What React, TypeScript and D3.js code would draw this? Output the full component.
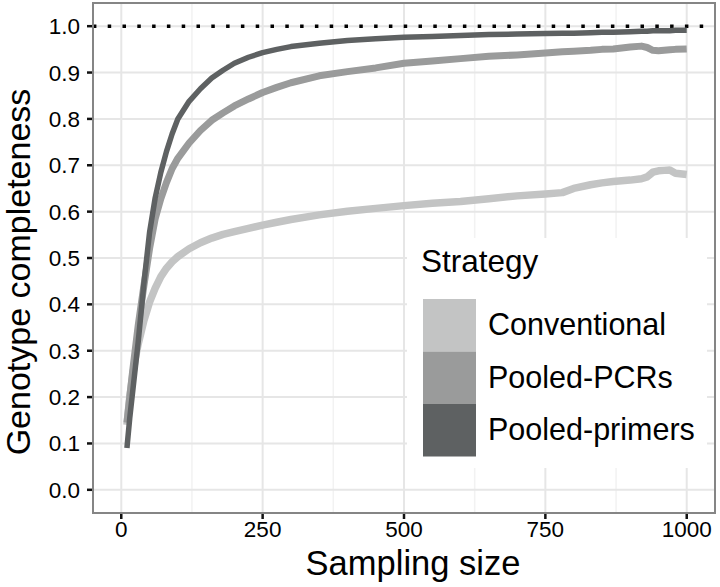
import React from "react";
import * as d3 from "d3";

const sizes = [10, 15, 20, 25, 30, 40, 50, 60, 70, 80, 90, 100, 120, 140, 160, 180, 200, 225, 250, 275, 300, 350, 400, 450, 500, 550, 600, 650, 700, 750, 780, 800, 830, 850, 870, 900, 920, 930, 940, 950, 960, 970, 980, 1000];

const conventional = [0.14, 0.2, 0.245, 0.285, 0.315, 0.365, 0.405, 0.435, 0.46, 0.478, 0.492, 0.503, 0.52, 0.533, 0.543, 0.551, 0.557, 0.564, 0.571, 0.577, 0.583, 0.593, 0.601, 0.607, 0.613, 0.618, 0.622, 0.628, 0.634, 0.638, 0.641, 0.65, 0.658, 0.662, 0.665, 0.668, 0.671, 0.675, 0.685, 0.688, 0.689, 0.69, 0.683, 0.68];

const pooledPCRs = [0.145, 0.2, 0.255, 0.305, 0.355, 0.44, 0.52, 0.585, 0.628, 0.663, 0.693, 0.715, 0.748, 0.775, 0.797, 0.813, 0.828, 0.843, 0.857, 0.868, 0.878, 0.893, 0.902, 0.91, 0.92, 0.925, 0.93, 0.935, 0.938, 0.942, 0.945, 0.946, 0.948, 0.95, 0.951, 0.955, 0.957, 0.954, 0.948, 0.947, 0.948, 0.949, 0.95, 0.951];

const pooledPrimers = [0.09, 0.155, 0.21, 0.265, 0.32, 0.445, 0.555, 0.63, 0.685, 0.73, 0.768, 0.8, 0.838, 0.865, 0.888, 0.905, 0.92, 0.933, 0.943, 0.95, 0.956, 0.963, 0.969, 0.973, 0.976, 0.978, 0.98, 0.982, 0.983, 0.984, 0.985, 0.985, 0.986, 0.987, 0.987, 0.988, 0.989, 0.989, 0.99, 0.99, 0.99, 0.99, 0.991, 0.991];

const strategies = ["Conventional", "Pooled-PCRs", "Pooled-primers"];
const seriesValues = [conventional, pooledPCRs, pooledPrimers];
const colors = ["#c3c4c4", "#9a9b9b", "#5e6162"];
const lineWidths = [7.5, 7, 5.5];

const xTicks = [0, 250, 500, 750, 1000];
const xMinor = [125, 375, 625, 875];
const yTicks = [0, 0.1, 0.2, 0.3, 0.4, 0.5, 0.6, 0.7, 0.8, 0.9, 1.0];
const refLine = 1.0;

const W = 720;
const H = 587;
const left = 93;
const right = 715;
const top = 3;
const bottom = 513;
const font = "'Liberation Sans', Arial, Helvetica, sans-serif";

export default function App() {
  const x = d3.scaleLinear().domain([-50, 1050]).range([left, right]);
  const y = d3.scaleLinear().domain([-0.05, 1.05]).range([bottom, top]);

  const line = d3
    .line<[number, number]>()
    .x((d) => x(d[0]))
    .y((d) => y(d[1]));

  const legendX = 407;
  const legendY = 238;
  const keyX = 423;
  const keyY0 = 299;
  const keyH = 52.5;
  const keyW = 53;

  return (
    <svg
      width={W}
      height={H}
      style={{ position: "absolute", left: 0, top: 0, background: "#fff" }}
      fontFamily={font}
    >
      <rect x={0} y={0} width={W} height={H} fill="#fff" />
      <defs>
        <clipPath id="panel">
          <rect x={left} y={top} width={right - left} height={bottom - top} />
        </clipPath>
      </defs>
      {/* minor grid */}
      {xMinor.map((t) => (
        <line key={"xm" + t} x1={x(t)} x2={x(t)} y1={top} y2={bottom} stroke="#f2f2f2" strokeWidth={1.5} />
      ))}
      {/* major grid */}
      {xTicks.map((t) => (
        <line key={"xg" + t} x1={x(t)} x2={x(t)} y1={top} y2={bottom} stroke="#e6e6e6" strokeWidth={2} />
      ))}
      {yTicks.map((t) => (
        <line key={"yg" + t} x1={left} x2={right} y1={y(t)} y2={y(t)} stroke="#e6e6e6" strokeWidth={2} />
      ))}
      {/* reference line */}
      <line
        x1={left}
        x2={right}
        y1={y(refLine)}
        y2={y(refLine)}
        stroke="#000"
        strokeWidth={3.5}
        strokeDasharray="3.5 11.3"
        strokeDashoffset={-14.7}
      />
      {/* series */}
      <g clipPath="url(#panel)">
        {seriesValues.map((vals, i) => (
          <path
            key={strategies[i]}
            d={line(sizes.map((n, j) => [n, vals[j]] as [number, number])) || ""}
            fill="none"
            stroke={colors[i]}
            strokeWidth={lineWidths[i]}
            strokeLinejoin="round"
            strokeLinecap="butt"
          />
        ))}
      </g>
      {/* legend */}
      <rect x={legendX} y={legendY} width={300} height={230} fill="#fff" />
      <text x={421} y={272} fontSize={31.5} fill="#000">
        Strategy
      </text>
      {strategies.map((s, i) => (
        <g key={"lg" + s}>
          <rect x={keyX} y={keyY0 + i * keyH} width={keyW} height={keyH} fill={colors[i]} />
          <text x={488} y={keyY0 + i * keyH + keyH / 2 + 10} fontSize={30.5} fill="#000">
            {s}
          </text>
        </g>
      ))}
      {/* panel border */}
      <rect x={left} y={top} width={right - left} height={bottom - top} fill="none" stroke="#858585" strokeWidth={2} />
      {/* axes ticks */}
      {xTicks.map((t) => (
        <g key={"xt" + t}>
          <line x1={x(t)} x2={x(t)} y1={bottom + 1} y2={bottom + 6} stroke="#111" strokeWidth={2.5} />
          <text x={x(t)} y={537} fontSize={22.5} textAnchor="middle" fill="#000">
            {t}
          </text>
        </g>
      ))}
      {yTicks.map((t) => (
        <g key={"yt" + t}>
          <line x1={left - 6} x2={left - 1} y1={y(t)} y2={y(t)} stroke="#111" strokeWidth={2.5} />
          <text x={80} y={y(t) + 8} fontSize={22.5} textAnchor="end" fill="#000">
            {t.toFixed(1)}
          </text>
        </g>
      ))}
      {/* axis titles */}
      <text x={413} y={575} fontSize={34.5} textAnchor="middle" fill="#000">
        Sampling size
      </text>
      <text transform="translate(30,272) rotate(-90)" fontSize={34} textAnchor="middle" fill="#000">
        Genotype completeness
      </text>
    </svg>
  );
}
